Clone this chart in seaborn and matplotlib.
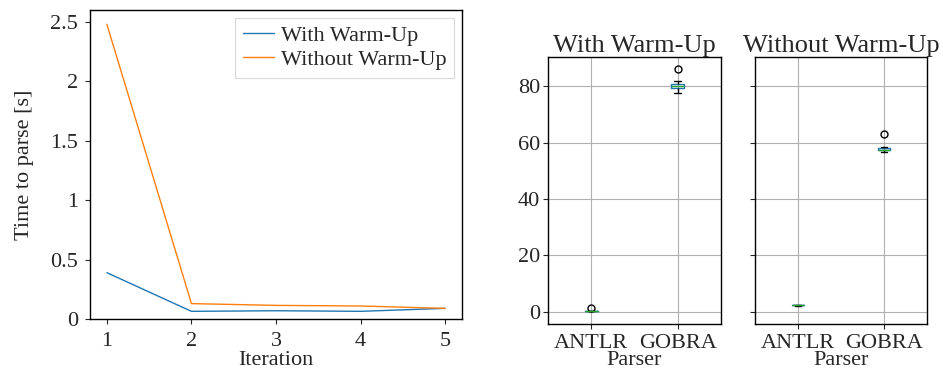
import numpy as np
import pandas as pd
import matplotlib
matplotlib.use("Agg")
import matplotlib.pyplot as plt
from matplotlib.ticker import FuncFormatter
import seaborn as sns

# ---- data ----
iterations = [1, 2, 3, 4, 5]
with_warmup = [0.39, 0.065, 0.07, 0.065, 0.09]
without_warmup = [2.48, 0.13, 0.115, 0.11, 0.09]

parsers = ["ANTLR", "GOBRA"]
antlr_with = [0.22, 0.26, 0.28, 0.30, 0.30, 0.31, 0.32, 0.34, 0.36, 1.2]
gobra_with = [77.6, 78.5, 78.9, 79.3, 79.6, 79.8, 80.1, 80.4, 80.7, 81.2, 82.0, 86.2]
antlr_without = [2.1, 2.2, 2.25, 2.3, 2.3, 2.35, 2.4, 2.45, 2.5]
gobra_without = [56.6, 57.0, 57.2, 57.3, 57.4, 57.5, 57.6, 57.8, 58.0, 58.4, 63.0]

line_df = pd.DataFrame({
    "Iteration": iterations * 2,
    "Time": with_warmup + without_warmup,
    "Mode": ["With Warm-Up"] * 5 + ["Without Warm-Up"] * 5,
})

def long(antlr, gobra):
    return pd.DataFrame({
        "Parser": ["ANTLR"] * len(antlr) + ["GOBRA"] * len(gobra),
        "Time": antlr + gobra,
    })

box_with = long(antlr_with, gobra_with)
box_without = long(antlr_without, gobra_without)

# ---- style ----
sns.set_style("ticks")
plt.rcParams["font.family"] = ["Liberation Serif", "DejaVu Serif"]
plt.rcParams["font.size"] = 16
plt.rcParams["xtick.labelsize"] = 16
plt.rcParams["ytick.labelsize"] = 16
plt.rcParams["axes.labelsize"] = 16

fig = plt.figure(figsize=(9.43, 3.71), dpi=100)
ax0 = fig.add_axes([0.0954, 0.140, 0.3946, 0.833])
ax1 = fig.add_axes([0.581, 0.127, 0.1836, 0.719])
ax2 = fig.add_axes([0.8006, 0.127, 0.1824, 0.719], sharey=ax1)

# line plot
sns.lineplot(data=line_df, x="Iteration", y="Time", hue="Mode",
             palette=["#1f77b4", "#ff7f0e"], linewidth=1.0, ax=ax0)
ax0.set_xlim(0.8, 5.2)
ax0.set_ylim(0, 2.6)
ax0.set_xticks(iterations)
ax0.set_yticks([0, 0.5, 1, 1.5, 2, 2.5])
ax0.yaxis.set_major_formatter(FuncFormatter(lambda v, p: f"{v:g}"))
ax0.tick_params(axis="x", pad=6)
ax0.tick_params(axis="y", pad=5)
ax0.set_xlabel("Iteration", labelpad=0)
ax0.set_ylabel("Time to parse [s]", labelpad=12)
leg = ax0.legend(loc="upper right", frameon=True, fancybox=False, fontsize=16,
                 handlelength=1.4, handletextpad=0.3, borderpad=0.35,
                 labelspacing=0.15, borderaxespad=0.35)
leg.get_frame().set_edgecolor("#d0d0d0")
leg.get_frame().set_linewidth(0.8)
for s in ax0.spines.values():
    s.set_linewidth(1.0)
    s.set_color("black")

boxkw = dict(
    width=0.15, fill=False, linewidth=1.0,
    boxprops=dict(color="#1f77b4"),
    medianprops=dict(color="#2ca02c"),
    whiskerprops=dict(color="black"),
    capprops=dict(color="black"),
    flierprops=dict(marker="o", markerfacecolor="none",
                    markeredgecolor="black", markersize=5),
)

for ax, df, title in [(ax1, box_with, "With Warm-Up"),
                      (ax2, box_without, "Without Warm-Up")]:
    sns.boxplot(data=df, x="Parser", y="Time", order=parsers, ax=ax, **boxkw)
    ax.set_xlim(-0.5, 1.5)
    ax.grid(True, color="#b0b0b0", linewidth=0.8)
    ax.set_axisbelow(True)
    ax.set_title(title, pad=0, fontsize=19)
    ax.set_xlabel("Parser", labelpad=-1)
    ax.set_ylabel("")
    ax.tick_params(axis="y", pad=2)
    for s in ax.spines.values():
        s.set_visible(True)
        s.set_linewidth(1.0)
        s.set_color("black")

ax1.set_ylim(-4.3, 90.3)
ax1.set_yticks([0, 20, 40, 60, 80])
plt.setp(ax2.get_yticklabels(), visible=False)

fig.savefig("out.png", dpi=100)
